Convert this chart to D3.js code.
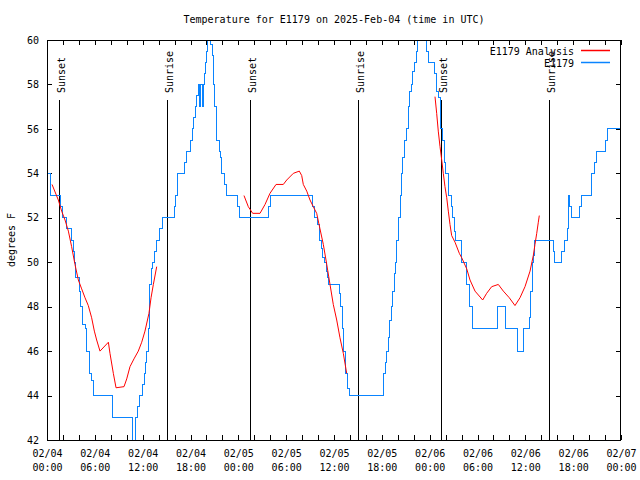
<!DOCTYPE html>
<html>
<head>
<meta charset="utf-8">
<script src="https://cdn.jsdelivr.net/npm/d3@7"></script>
<style>
  html, body { margin: 0; padding: 0; background: #fff; }
  text { font-family: "DejaVu Sans Mono", monospace; font-size: 10px; fill: #000; }
</style>
</head>
<body>
<svg id="chart" width="640" height="480"></svg>
<script>
// ---------------- DATA ----------------
const titleText = "Temperature for E1179 on 2025-Feb-04 (time in UTC)";
const yLabel = "degrees F";
const startUTC = Date.UTC(2025, 1, 4, 0, 0);
const spanHours = 72;
const yTicks = [42, 44, 46, 48, 50, 52, 54, 56, 58, 60];

// Station observations (hours since 02/04 00:00 UTC, degrees F), step series
const blueHours = [0, 0.46, 1.7, 1.9, 2.5, 3.1, 3.3, 3.5, 3.6, 4.05, 4.25, 4.5, 4.8, 5.0, 5.3, 5.6, 5.85, 8.25, 10.75, 11.1,
  11.35, 11.6, 11.95, 12.25, 12.4, 12.5, 12.7, 12.8, 12.9, 13.05, 13.2, 13.45, 13.7, 14.1, 14.5, 15.95, 16.1, 16.35, 17.3, 17.45,
  18.0, 18.2, 18.35, 18.6, 18.8, 18.95, 19.1, 19.28, 19.45, 19.62, 19.75, 19.85, 19.95, 20.15, 20.5, 20.75, 20.86, 21.07, 21.2, 21.6,
  21.8, 21.9, 22.3, 22.5, 23.9, 24.2, 27.8, 28.0, 33.3, 33.5, 33.95, 34.2, 34.4, 34.6, 34.8, 35.0, 35.15, 35.3, 36.7, 36.85,
  37.05, 37.25, 37.4, 37.5, 37.65, 37.75, 37.9, 42.2, 42.4, 42.6, 42.8, 43.0, 43.25, 43.4, 43.55, 43.7, 43.9, 44.15, 44.35, 44.45,
  44.65, 44.85, 45.1, 45.3, 45.5, 45.7, 45.9, 46.1, 46.3, 46.5, 47.65, 47.9, 48.6, 48.8, 49.05, 49.35, 49.6, 49.8, 50.0, 50.3,
  50.7, 50.9, 51.1, 51.3, 52.05, 52.6, 53.0, 53.4, 56.5, 57.5, 59.05, 59.75, 60.5, 60.65, 60.85, 61.0, 61.2, 63.5, 63.7, 64.5,
  64.9, 65.3, 65.45, 65.6, 65.75, 66.8, 67.1, 68.35, 68.7, 68.95, 70.0, 70.3, 72];
const blueTemps = [54, 53, 52.5, 52, 51.5, 51, 50.5, 50, 49.3, 48.7, 48, 47.2, 47, 46, 45, 44.7, 44, 43, 41, 43,
  43.5, 44, 44.5, 45, 45.5, 46, 47, 48, 49, 49.7, 50, 50.5, 51, 51.5, 52, 52.5, 53, 54, 54.5, 55,
  55.5, 56, 56.5, 57, 57.5, 58, 57, 58, 57, 58, 58.5, 59, 59.5, 61, 59.8, 59.3, 58, 57, 55.5, 55,
  54.7, 54, 53.5, 53, 52.5, 52, 52.5, 53, 52.5, 52, 51.7, 51, 50.6, 50.2, 50, 49.6, 49.3, 49, 48.6, 48,
  47, 46, 45.4, 45, 44.7, 44.3, 44, 45, 45.5, 46, 46.6, 47.4, 48, 48.7, 49.5, 50, 51, 52, 53, 54,
  54.7, 55.5, 56, 57, 57.7, 58, 58.6, 59, 59.5, 61, 59.5, 59, 58.5, 57.7, 57.4, 56, 55.5, 54.5, 54, 53,
  52.5, 52, 51.4, 51, 50, 49, 48, 47, 48, 47, 46, 47, 47.5, 48.7, 50, 50.3, 51, 50.5, 50, 50.5,
  51, 51.5, 53, 52.5, 52, 52.5, 53, 54, 54.5, 55, 55.5, 56, 56];

// Analysis series (three separate runs)
const analysisHours1 = [0.63, 1.42, 1.84, 2.26, 2.68, 3.09, 3.51, 3.93, 4.35, 4.77, 5.18, 5.6, 5.94, 6.23, 6.65, 7.7, 7.9, 8.32, 8.66, 9.66, 10.0, 10.41, 10.91, 11.45, 11.88, 12.29, 12.79, 13.05, 13.34, 13.76];
const analysisTemps1 = [53.5, 52.8, 52.3, 51.9, 51.4, 50.7, 49.9, 49.2, 48.8, 48.4, 48.05, 47.5, 46.9, 46.5, 46.0, 46.4, 45.9, 45.0, 44.35, 44.4, 44.75, 45.3, 45.65, 46.0, 46.4, 46.9, 47.7, 48.4, 49.0, 49.8];
const analysisHours2 = [24.71, 25.25, 25.8, 26.72, 27.35, 27.97, 28.73, 29.64, 30.07, 30.9, 31.65, 31.95, 32.15, 32.58, 32.99, 33.4, 33.83, 34.24, 34.66, 35.09, 35.5, 35.91, 36.34, 36.75, 37.17, 37.59];
const analysisTemps2 = [53.0, 52.5, 52.2, 52.2, 52.6, 53.1, 53.5, 53.5, 53.7, 54.0, 54.1, 53.9, 53.5, 53.2, 52.8, 52.5, 52.2, 51.5, 50.8, 49.9, 49.0, 48.1, 47.4, 46.6, 45.9, 45.0];
const analysisHours3 = [48.67, 48.88, 49.08, 49.3, 49.51, 49.71, 49.92, 50.14, 50.34, 50.55, 50.76, 51.18, 51.72, 52.02, 52.65, 53.06, 53.69, 54.65, 55.15, 55.78, 56.61, 57.24, 57.99, 58.7, 59.33, 59.96, 60.59, 61.0, 61.21, 61.43, 61.63, 61.75];
const analysisTemps3 = [57.45, 56.7, 55.9, 55.2, 54.6, 54.0, 53.4, 52.9, 52.3, 51.7, 51.2, 50.9, 50.4, 50.2, 49.7, 49.2, 48.7, 48.3, 48.6, 48.9, 49.0, 48.7, 48.4, 48.05, 48.4, 48.9, 49.6, 50.3, 50.8, 51.3, 51.8, 52.1];

// Sunrise / sunset markers
const sunHours = [1.45, 15.0, 25.5, 39.0, 49.45, 63.0];
const sunLabels = ["Sunset", "Sunrise", "Sunset", "Sunrise", "Sunset", "Sunrise"];

const seriesNames = ["E1179 Analysis", "E1179"];
const seriesColors = ["#ff0000", "#0a84ff"];

// ---------------- CHART ----------------
const W = 640, H = 480;
const margin = {left: 47, right: 19, top: 40, bottom: 40};
const svg = d3.select("#chart");
const toDate = h => new Date(startUTC + h * 3600e3);

const x = d3.scaleUtc()
  .domain([toDate(0), toDate(spanHours)])
  .range([margin.left, W - margin.right]);
const y = d3.scaleLinear().domain([42, 60]).range([H - margin.bottom, margin.top]);

svg.append("defs").append("clipPath").attr("id", "plotclip")
  .append("rect")
  .attr("x", margin.left).attr("y", margin.top)
  .attr("width", W - margin.left - margin.right)
  .attr("height", H - margin.top - margin.bottom);

// Title
svg.append("text")
  .attr("x", (margin.left + W - margin.right) / 2)
  .attr("y", 23)
  .attr("text-anchor", "middle")
  .text(titleText);

// Y label
svg.append("text")
  .attr("transform", "translate(15,240) rotate(-90)")
  .attr("text-anchor", "middle")
  .text(yLabel);

const fmtDay = d3.utcFormat("%m/%d");
const fmtTime = d3.utcFormat("%H:%M");
const majorTicks = d3.utcHour.every(6).range(toDate(0), toDate(spanHours + 0.01));
const minorTicks = d3.utcHour.every(2).range(toDate(0), toDate(spanHours + 0.01));

// Bottom axis (inward ticks)
const gx = svg.append("g").attr("transform", `translate(0,${H - margin.bottom})`)
  .call(d3.axisBottom(x).tickValues(minorTicks).tickSize(-5).tickFormat(""));
gx.select(".domain").remove();
const gxl = svg.append("g").attr("transform", `translate(0,${H - margin.bottom})`)
  .call(d3.axisBottom(x).tickValues(majorTicks).tickSize(0).tickPadding(9).tickFormat(""));
gxl.select(".domain").remove();
gxl.selectAll(".tick text").each(function(d) {
  const t = d3.select(this).attr("font-size", null).attr("font-family", null).attr("dy", null).attr("y", 0);
  t.append("tspan").attr("x", 0).attr("y", 17).text(fmtDay(d));
  t.append("tspan").attr("x", 0).attr("y", 31).text(fmtTime(d));
});
// Top mirror ticks
const gxt = svg.append("g").attr("transform", `translate(0,${margin.top})`)
  .call(d3.axisTop(x).tickValues(minorTicks).tickSize(-5).tickFormat(""));
gxt.select(".domain").remove();

// Left axis
const gy = svg.append("g").attr("transform", `translate(${margin.left},0)`)
  .call(d3.axisLeft(y).tickValues(yTicks).tickSize(-5).tickPadding(8).tickFormat(d3.format("d")));
gy.select(".domain").remove();
gy.selectAll(".tick text").attr("font-size", null).attr("font-family", null);
// Right mirror ticks
const gyr = svg.append("g").attr("transform", `translate(${W - margin.right},0)`)
  .call(d3.axisRight(y).tickValues(yTicks).tickSize(-5).tickFormat(""));
gyr.select(".domain").remove();

svg.selectAll(".tick line").attr("stroke", "#000").attr("shape-rendering", "crispEdges");

// Sunrise/sunset lines
const sun = svg.append("g");
sunHours.forEach((h, i) => {
  const xp = Math.round(x(toDate(h))) + 0.5;
  sun.append("line")
    .attr("x1", xp).attr("x2", xp)
    .attr("y1", H - margin.bottom).attr("y2", 100)
    .attr("stroke", "#000").attr("stroke-width", 1)
    .attr("shape-rendering", "crispEdges");
  sun.append("text")
    .attr("transform", `translate(${xp + 5},93) rotate(-90)`)
    .attr("text-anchor", "start")
    .text(sunLabels[i]);
});

// Data
const plot = svg.append("g").attr("clip-path", "url(#plotclip)");
const blueData = blueHours.map((h, i) => ({h, v: blueTemps[i]}));
plot.append("path")
  .datum(blueData)
  .attr("fill", "none")
  .attr("stroke", seriesColors[1])
  .attr("stroke-width", 1)
  .attr("shape-rendering", "crispEdges")
  .attr("d", d3.line().x(d => x(toDate(d.h))).y(d => y(d.v)).curve(d3.curveStepAfter));

const redLine = d3.line().x(d => x(toDate(d.h))).y(d => y(d.v));
[[analysisHours1, analysisTemps1], [analysisHours2, analysisTemps2], [analysisHours3, analysisTemps3]].forEach(([hs, vs]) => {
  plot.append("path")
    .datum(hs.map((h, i) => ({h, v: vs[i]})))
    .attr("fill", "none")
    .attr("stroke", seriesColors[0])
    .attr("stroke-width", 1)
    .attr("d", redLine);
});

// Border
svg.append("rect")
  .attr("x", margin.left + 0.5).attr("y", margin.top + 0.5)
  .attr("width", W - margin.left - margin.right - 1)
  .attr("height", H - margin.top - margin.bottom)
  .attr("fill", "none").attr("stroke", "#000").attr("stroke-width", 1)
  .attr("shape-rendering", "crispEdges");

// Legend
const legend = svg.append("g");
seriesNames.forEach((name, i) => {
  const yy = 50.5 + i * 12;
  legend.append("text").attr("x", 574).attr("y", yy + 4).attr("text-anchor", "end").text(name);
  legend.append("line").attr("x1", 581).attr("x2", 610).attr("y1", yy).attr("y2", yy)
    .attr("stroke", seriesColors[i]).attr("stroke-width", 1.5);
});
</script>
</body>
</html>
